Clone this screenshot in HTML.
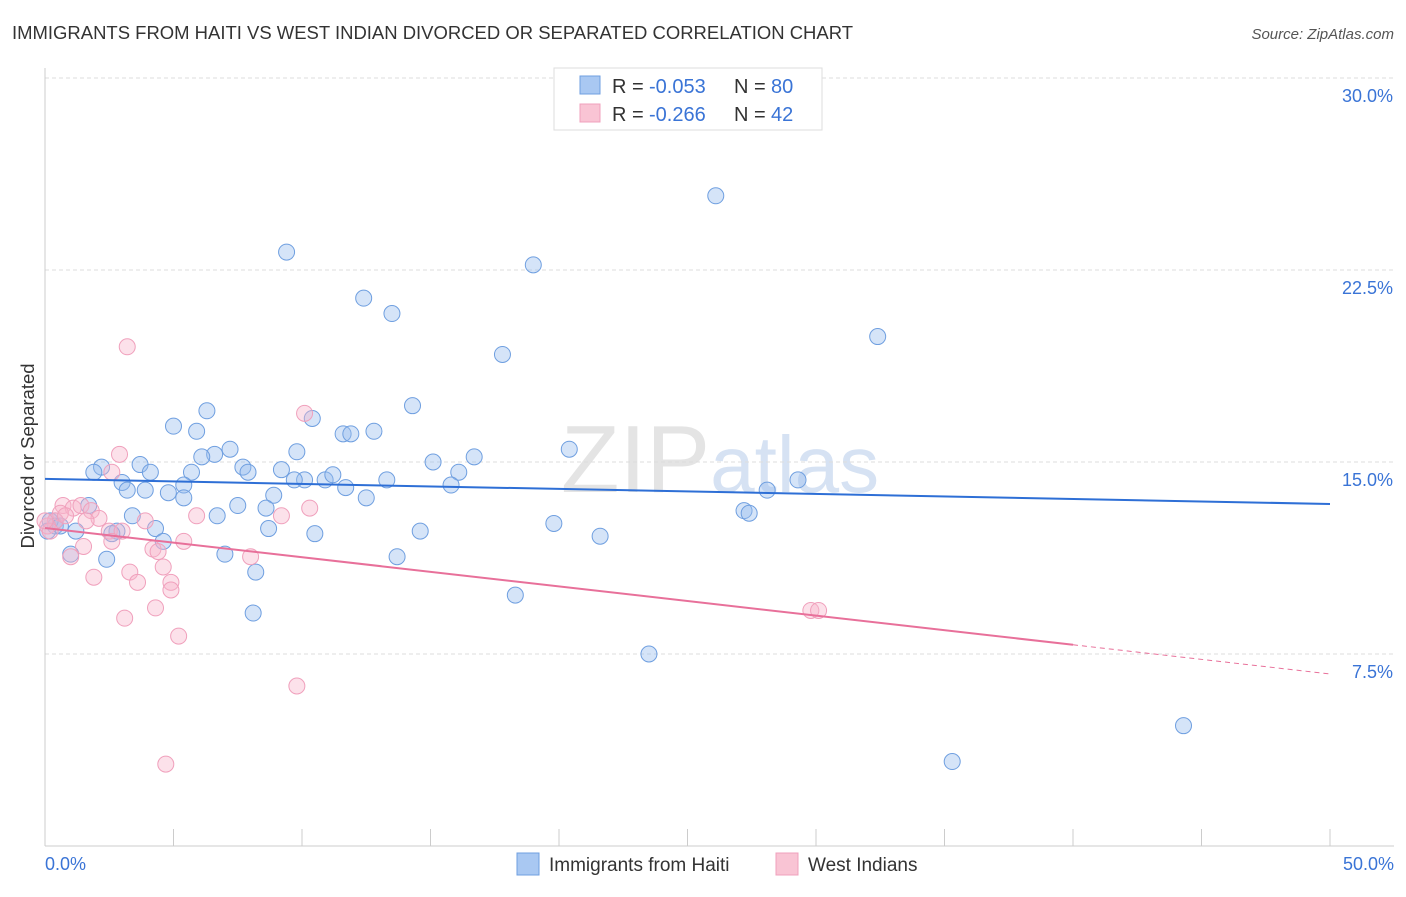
<!DOCTYPE html>
<html><head><meta charset="utf-8"><style>
body{margin:0;background:#fff;font-family:"Liberation Sans",sans-serif;}
svg text{font-family:"Liberation Sans",sans-serif;}
</style></head><body>
<svg id="chart" width="1406" height="892" xmlns="http://www.w3.org/2000/svg">
<text x="12" y="39" font-size="18" fill="#333" textLength="841" lengthAdjust="spacingAndGlyphs">IMMIGRANTS FROM HAITI VS WEST INDIAN DIVORCED OR SEPARATED CORRELATION CHART</text>
<text x="1394" y="39" font-size="15" fill="#555" font-style="italic" text-anchor="end">Source: ZipAtlas.com</text>
<text x="720" y="492" font-size="96" fill="#e4e4e4" text-anchor="middle" font-family="Liberation Serif">ZIP<tspan font-family="Liberation Sans" fill="#d6e2f3" font-size="80">atlas</tspan></text>
<text transform="translate(34,456) rotate(-90)" font-size="18.5" fill="#333" text-anchor="middle">Divorced or Separated</text>
<g id="grid"></g><g id="axes"></g><g id="pts"></g><g id="lines"></g>
<g>
<rect x="554" y="68" width="268" height="62" fill="#fff" stroke="#ddd"/>
<rect x="580" y="76" width="20" height="18" fill="#a9c8f2" stroke="#6f9fe0"/>
<rect x="580" y="104" width="20" height="18" fill="#f9c4d4" stroke="#f0a0bc"/>
<text x="612" y="93" font-size="20" fill="#333">R = </text><text x="649" y="93" font-size="20" fill="#3a74d6">-0.053</text>
<text x="734" y="93" font-size="20" fill="#333">N = </text><text x="771" y="93" font-size="20" fill="#3a74d6">80</text>
<text x="612" y="121" font-size="20" fill="#333">R = </text><text x="649" y="121" font-size="20" fill="#3a74d6">-0.266</text>
<text x="734" y="121" font-size="20" fill="#333">N = </text><text x="771" y="121" font-size="20" fill="#3a74d6">42</text>
</g>
<g>
<rect x="517" y="853" width="22" height="22" fill="#a9c8f2" stroke="#6f9fe0"/>
<text x="549" y="871" font-size="19" fill="#333">Immigrants from Haiti</text>
<rect x="776" y="853" width="22" height="22" fill="#f9c4d4" stroke="#f0a0bc"/>
<text x="808" y="871" font-size="19" fill="#333">West Indians</text>
</g>
</svg>
<script>
const yTicks=[7.5,15,22.5,30];
const yTickLabels=["7.5%","15.0%","22.5%","30.0%"];
const xTickLabels=["0.0%","50.0%"];
const haitiX=[26.1,9.4,19.0,12.4,13.5,32.4,17.8,14.3,6.3,10.4,5.0,5.9,12.8,11.6,11.9,20.4,7.2,9.8,6.6,6.1,16.7,15.1,2.2,3.7,7.7,9.2,1.9,4.1,5.7,7.9,16.1,10.9,11.2,10.1,9.7,13.3,3.0,5.4,15.8,29.3,3.2,3.9,11.7,4.8,5.4,28.1,8.9,12.5,1.7,7.5,8.6,27.2,27.4,3.4,6.7,19.8,0.4,1.2,2.8,4.3,8.7,14.6,10.5,21.6,4.6,2.6,1.0,7.0,13.7,2.4,8.2,18.3,8.1,23.5,44.3,35.3,0.4,0.2,0.1,0.6];
const haitiY=[25.4,23.2,22.7,21.4,20.8,19.9,19.2,17.2,17.0,16.7,16.4,16.2,16.2,16.1,16.1,15.5,15.5,15.4,15.3,15.2,15.2,15.0,14.8,14.9,14.8,14.7,14.6,14.6,14.6,14.6,14.6,14.3,14.5,14.3,14.3,14.3,14.2,14.1,14.1,14.3,13.9,13.9,14.0,13.8,13.6,13.9,13.7,13.6,13.3,13.3,13.2,13.1,13.0,12.9,12.9,12.6,12.7,12.3,12.3,12.4,12.4,12.3,12.2,12.1,11.9,12.2,11.4,11.4,11.3,11.2,10.7,9.8,9.1,7.5,4.7,3.3,12.5,12.7,12.3,12.5];
const wiX=[3.2,10.1,2.9,2.6,0.7,1.1,1.4,1.8,2.1,0.6,0.4,0.1,3.9,5.9,9.2,10.3,1.6,2.5,3.0,2.6,1.5,4.2,5.4,8.0,4.4,1.0,3.3,4.6,1.9,3.6,4.9,4.9,4.3,3.1,29.8,30.1,5.2,9.8,4.7,0.2,0.8,0.0];
const wiY=[19.5,16.9,15.3,14.6,13.3,13.2,13.3,13.1,12.8,13.0,12.7,12.5,12.7,12.9,12.9,13.2,12.7,12.3,12.3,11.9,11.7,11.6,11.9,11.3,11.5,11.3,10.7,10.9,10.5,10.3,10.3,10.0,9.3,8.9,9.2,9.2,8.2,6.25,3.2,12.3,12.9,12.7];
const haitiTrend=[14.34,13.36];
const wiTrend=[12.42,6.72];
const wiSolidEnd=40;
const X0=45,X1=1330,Y0=846,Y30=78;
const sx=v=>X0+(X1-X0)*v/50;
const sy=v=>Y0-(Y0-Y30)*v/30;
const NS="http://www.w3.org/2000/svg";
function mk(t,a,p){const e=document.createElementNS(NS,t);for(const k in a)e.setAttribute(k,a[k]);p.appendChild(e);return e;}
const grid=document.getElementById('grid'),axes=document.getElementById('axes'),pts=document.getElementById('pts'),lines=document.getElementById('lines');
yTicks.forEach((t,i)=>{
 const g=mk('line',{x1:X0,x2:1394,y1:sy(t),y2:sy(t),stroke:'#ddd','stroke-dasharray':'4,3'},grid);
 
 
 const l=mk('text',{x:1393,y:sy(t)+24,'font-size':18,fill:'#3a74d6','text-anchor':'end'},axes);
 l.textContent=yTickLabels[i];
 
 
});
const ax=mk('line',{x1:X0,x2:X0,y1:68,y2:Y0,stroke:'#ccc'},axes);


const bx=mk('line',{x1:X0,x2:1394,y1:Y0,y2:Y0,stroke:'#ccc'},axes);


for(let i=0;i<=10;i++){
 const t=mk('line',{x1:sx(i*5),x2:sx(i*5),y1:829,y2:Y0,stroke:'#ccc'},axes);
 
 
}
[[0,'start',45],[50,'end',1394]].forEach((d,i)=>{
 const l=mk('text',{x:d[2],y:870,'font-size':18,fill:'#3a74d6','text-anchor':d[1]},axes);
 l.textContent=xTickLabels[i];
 
 
});
haitiX.forEach((x,i)=>{
 const c=mk('circle',{cx:sx(x),cy:sy(haitiY[i]),r:8,fill:'rgba(150,188,238,0.4)',stroke:'#6f9fe0','stroke-width':1},pts);
 
 
});
wiX.forEach((x,i)=>{
 const c=mk('circle',{cx:sx(x),cy:sy(wiY[i]),r:8,fill:'rgba(248,180,202,0.4)',stroke:'#f0a0bc','stroke-width':1},pts);
 
 
});
const hl=mk('line',{x1:sx(0),x2:sx(50),y1:sy(haitiTrend[0]),y2:sy(haitiTrend[1]),stroke:'#2e6fd6','stroke-width':2},lines);


const wv=x=>wiTrend[0]+(wiTrend[1]-wiTrend[0])*x/50;
const wl=mk('line',{x1:sx(0),x2:sx(wiSolidEnd),y1:sy(wv(0)),y2:sy(wv(wiSolidEnd)),stroke:'#e8709a','stroke-width':2},lines);


const wd=mk('line',{x1:sx(wiSolidEnd),x2:sx(50),y1:sy(wv(wiSolidEnd)),y2:sy(wv(50)),stroke:'#e8709a','stroke-width':1,'stroke-dasharray':'5,4'},lines);


</script>
</body></html>
